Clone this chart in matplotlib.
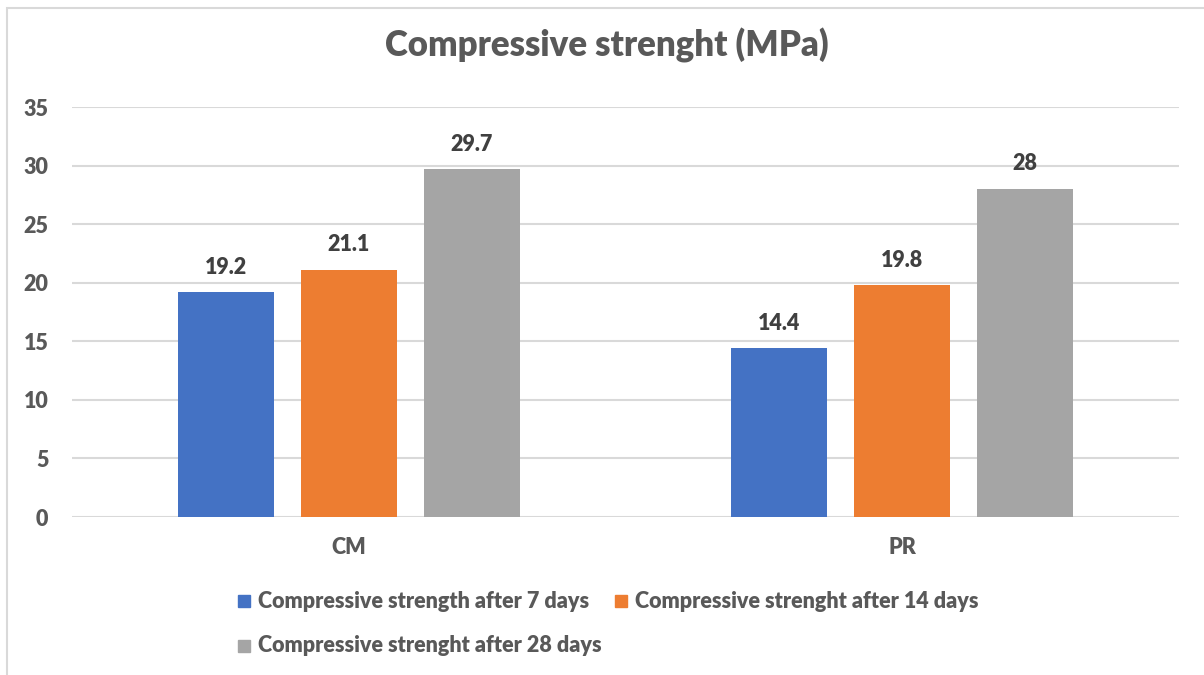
import numpy as np
import matplotlib.pyplot as plt
from matplotlib.patches import Rectangle

categories = ['CM', 'PR']
series_names = ['Compressive strength after 7 days',
                'Compressive strenght after 14 days',
                'Compressive strenght after 28 days']
days_7 = [19.2, 14.4]
days_14 = [21.1, 19.8]
days_28 = [29.7, 28]
colors = ['#4472C4', '#ED7D31', '#A5A5A5']

plt.rcParams['font.family'] = ['Lato', 'DejaVu Sans']

W, H = 1204, 675
fig = plt.figure(figsize=(W / 100, H / 100), dpi=100)
ax = fig.add_axes([72 / W, 1 - 517 / H, (1179 - 72) / W, 410 / H])

# chart border (light grey, cut off at right and bottom like the screenshot)
fig.patches.append(Rectangle((7 / W, -0.2), 1.2, 1 - 8 / H + 0.2,
                             transform=fig.transFigure, fill=False,
                             edgecolor='#d9d9d9', lw=1.5))

x = np.arange(len(categories))
width = 0.1734
step = 0.222
for i, (vals, c) in enumerate(zip([days_7, days_14, days_28], colors)):
    bars = ax.bar(x + (i - 1) * step, vals, width, color=c, zorder=3)
    for b, v in zip(bars, vals):
        ax.annotate(f'{v:g}', (b.get_x() + b.get_width() / 2, v),
                    xytext=(0, 18), textcoords='offset points',
                    ha='center', va='center', fontsize=15.5,
                    fontweight='heavy', color='#404040')

ax.set_xlim(-0.5, 1.5)
ax.set_ylim(0, 35)
ax.set_yticks(range(0, 36, 5))
ax.yaxis.grid(True, color='#d9d9d9', lw=1.5)
ax.set_axisbelow(True)
for s in ax.spines.values():
    s.set_visible(False)
ax.tick_params(axis='y', length=0, pad=17, labelsize=15.5, labelcolor='#595959')
for lab in ax.get_yticklabels():
    lab.set_fontweight('heavy')
ax.set_xticks([])
for xi, cat in zip(x, categories):
    ax.text(xi, -31 / 410 * 35, cat, ha='center', va='center', fontsize=15.5,
            fontweight='heavy', color='#595959')

fig.text(607 / W, 1 - 45 / H, 'Compressive strenght (MPa)', ha='center',
         va='center', fontsize=25, fontweight='heavy', color='#595959')

# legend, Excel-style flow: two items on first row, one on second
leg_pos = [(238, 601), (615, 601), (238, 646)]
for (lx, ly), name, c in zip(leg_pos, series_names, colors):
    fig.patches.append(Rectangle((lx / W, 1 - (ly + 6) / H), 12 / W, 12 / H,
                                 transform=fig.transFigure, color=c))
    fig.text((lx + 20) / W, 1 - ly / H, name, ha='left', va='center',
             fontsize=15.5, fontweight='heavy', color='#595959')

fig.savefig('out.png', dpi=100)
